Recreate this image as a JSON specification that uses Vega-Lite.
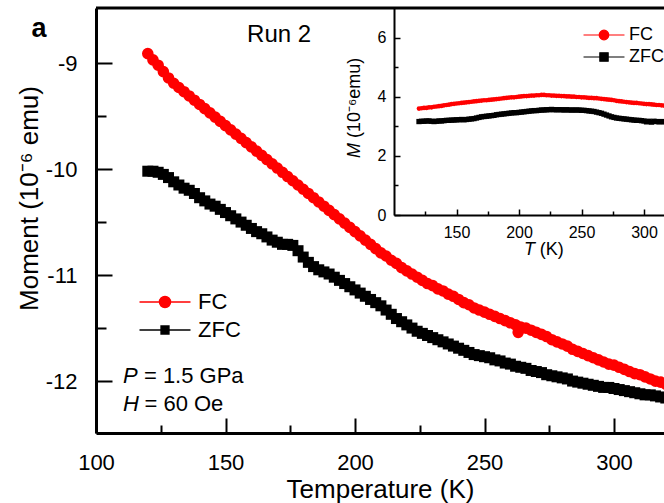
{
  "$schema": "https://vega.github.io/schema/vega-lite/v6.json",
  "width": 568,
  "height": 425,
  "autosize": {"type": "none"},
  "padding": {"left": 96, "top": 8, "right": 0, "bottom": 70},
  "background": "white",
  "config": {
    "view": {"stroke": null},
    "font": "Liberation Sans",
    "axis": {"grid": false, "domainColor": "black", "tickColor": "black", "labelColor": "black", "titleColor": "black", "labelFont": "Liberation Sans", "titleFont": "Liberation Sans", "titleFontWeight": "normal", "labelFlush": false, "labelOverlap": false, "labelBound": false},
    "legend": {"labelFont": "Liberation Sans", "labelColor": "black", "symbolOpacity": 1}
  },
  "datasets": {
    "main": [
      {"s":"ZFC","T":120,"M":-10.02},{"s":"ZFC","T":122,"M":-10.02},{"s":"ZFC","T":124,"M":-10.03},{"s":"ZFC","T":126,"M":-10.05},{"s":"ZFC","T":128,"M":-10.08},{"s":"ZFC","T":130,"M":-10.12},{"s":"ZFC","T":132,"M":-10.15},{"s":"ZFC","T":134,"M":-10.18},{"s":"ZFC","T":136,"M":-10.2},{"s":"ZFC","T":138,"M":-10.23},{"s":"ZFC","T":140,"M":-10.27},{"s":"ZFC","T":142,"M":-10.3},{"s":"ZFC","T":144,"M":-10.33},{"s":"ZFC","T":146,"M":-10.35},{"s":"ZFC","T":148,"M":-10.38},{"s":"ZFC","T":150,"M":-10.41},{"s":"ZFC","T":152,"M":-10.44},{"s":"ZFC","T":154,"M":-10.47},{"s":"ZFC","T":156,"M":-10.5},{"s":"ZFC","T":158,"M":-10.53},{"s":"ZFC","T":160,"M":-10.56},{"s":"ZFC","T":162,"M":-10.59},{"s":"ZFC","T":164,"M":-10.61},{"s":"ZFC","T":166,"M":-10.64},{"s":"ZFC","T":168,"M":-10.67},{"s":"ZFC","T":170,"M":-10.69},{"s":"ZFC","T":172,"M":-10.71},{"s":"ZFC","T":174,"M":-10.71},{"s":"ZFC","T":176,"M":-10.72},{"s":"ZFC","T":178,"M":-10.77},{"s":"ZFC","T":180,"M":-10.83},{"s":"ZFC","T":182,"M":-10.88},{"s":"ZFC","T":184,"M":-10.92},{"s":"ZFC","T":186,"M":-10.95},{"s":"ZFC","T":188,"M":-10.97},{"s":"ZFC","T":190,"M":-10.99},{"s":"ZFC","T":192,"M":-11.02},{"s":"ZFC","T":194,"M":-11.05},{"s":"ZFC","T":196,"M":-11.08},{"s":"ZFC","T":198,"M":-11.11},{"s":"ZFC","T":200,"M":-11.14},{"s":"ZFC","T":202,"M":-11.17},{"s":"ZFC","T":204,"M":-11.2},{"s":"ZFC","T":206,"M":-11.23},{"s":"ZFC","T":208,"M":-11.26},{"s":"ZFC","T":210,"M":-11.29},{"s":"ZFC","T":212,"M":-11.33},{"s":"ZFC","T":214,"M":-11.37},{"s":"ZFC","T":216,"M":-11.41},{"s":"ZFC","T":218,"M":-11.44},{"s":"ZFC","T":220,"M":-11.47},{"s":"ZFC","T":222,"M":-11.5},{"s":"ZFC","T":224,"M":-11.53},{"s":"ZFC","T":226,"M":-11.55},{"s":"ZFC","T":228,"M":-11.57},{"s":"ZFC","T":230,"M":-11.59},{"s":"ZFC","T":232,"M":-11.61},{"s":"ZFC","T":234,"M":-11.63},{"s":"ZFC","T":236,"M":-11.65},{"s":"ZFC","T":238,"M":-11.67},{"s":"ZFC","T":240,"M":-11.69},{"s":"ZFC","T":242,"M":-11.71},{"s":"ZFC","T":244,"M":-11.73},{"s":"ZFC","T":246,"M":-11.75},{"s":"ZFC","T":248,"M":-11.76},{"s":"ZFC","T":250,"M":-11.77},{"s":"ZFC","T":252,"M":-11.78},{"s":"ZFC","T":254,"M":-11.8},{"s":"ZFC","T":256,"M":-11.81},{"s":"ZFC","T":258,"M":-11.83},{"s":"ZFC","T":260,"M":-11.84},{"s":"ZFC","T":262,"M":-11.86},{"s":"ZFC","T":264,"M":-11.87},{"s":"ZFC","T":266,"M":-11.88},{"s":"ZFC","T":268,"M":-11.9},{"s":"ZFC","T":270,"M":-11.91},{"s":"ZFC","T":272,"M":-11.92},{"s":"ZFC","T":274,"M":-11.94},{"s":"ZFC","T":276,"M":-11.95},{"s":"ZFC","T":278,"M":-11.96},{"s":"ZFC","T":280,"M":-11.97},{"s":"ZFC","T":282,"M":-11.98},{"s":"ZFC","T":284,"M":-12.0},{"s":"ZFC","T":286,"M":-12.01},{"s":"ZFC","T":288,"M":-12.02},{"s":"ZFC","T":290,"M":-12.03},{"s":"ZFC","T":292,"M":-12.04},{"s":"ZFC","T":294,"M":-12.05},{"s":"ZFC","T":296,"M":-12.06},{"s":"ZFC","T":298,"M":-12.06},{"s":"ZFC","T":300,"M":-12.07},{"s":"ZFC","T":302,"M":-12.08},{"s":"ZFC","T":304,"M":-12.09},{"s":"ZFC","T":306,"M":-12.1},{"s":"ZFC","T":308,"M":-12.11},{"s":"ZFC","T":310,"M":-12.12},{"s":"ZFC","T":312,"M":-12.13},{"s":"ZFC","T":314,"M":-12.13},{"s":"ZFC","T":316,"M":-12.14},{"s":"ZFC","T":318,"M":-12.15},{"s":"ZFC","T":320,"M":-12.16},
      {"s":"FC","T":120,"M":-8.91},{"s":"FC","T":122,"M":-8.97},{"s":"FC","T":124,"M":-9.02},{"s":"FC","T":126,"M":-9.08},{"s":"FC","T":128,"M":-9.14},{"s":"FC","T":130,"M":-9.19},{"s":"FC","T":132,"M":-9.23},{"s":"FC","T":134,"M":-9.27},{"s":"FC","T":136,"M":-9.31},{"s":"FC","T":138,"M":-9.35},{"s":"FC","T":140,"M":-9.39},{"s":"FC","T":142,"M":-9.43},{"s":"FC","T":144,"M":-9.47},{"s":"FC","T":146,"M":-9.51},{"s":"FC","T":148,"M":-9.55},{"s":"FC","T":150,"M":-9.59},{"s":"FC","T":152,"M":-9.63},{"s":"FC","T":154,"M":-9.67},{"s":"FC","T":156,"M":-9.71},{"s":"FC","T":158,"M":-9.75},{"s":"FC","T":160,"M":-9.79},{"s":"FC","T":162,"M":-9.83},{"s":"FC","T":164,"M":-9.87},{"s":"FC","T":166,"M":-9.91},{"s":"FC","T":168,"M":-9.95},{"s":"FC","T":170,"M":-9.99},{"s":"FC","T":172,"M":-10.03},{"s":"FC","T":174,"M":-10.07},{"s":"FC","T":176,"M":-10.11},{"s":"FC","T":178,"M":-10.15},{"s":"FC","T":180,"M":-10.19},{"s":"FC","T":182,"M":-10.23},{"s":"FC","T":184,"M":-10.27},{"s":"FC","T":186,"M":-10.31},{"s":"FC","T":188,"M":-10.35},{"s":"FC","T":190,"M":-10.39},{"s":"FC","T":192,"M":-10.43},{"s":"FC","T":194,"M":-10.47},{"s":"FC","T":196,"M":-10.51},{"s":"FC","T":198,"M":-10.55},{"s":"FC","T":200,"M":-10.59},{"s":"FC","T":202,"M":-10.63},{"s":"FC","T":204,"M":-10.67},{"s":"FC","T":206,"M":-10.71},{"s":"FC","T":208,"M":-10.75},{"s":"FC","T":210,"M":-10.79},{"s":"FC","T":212,"M":-10.82},{"s":"FC","T":214,"M":-10.86},{"s":"FC","T":216,"M":-10.89},{"s":"FC","T":218,"M":-10.93},{"s":"FC","T":220,"M":-10.96},{"s":"FC","T":222,"M":-10.99},{"s":"FC","T":224,"M":-11.02},{"s":"FC","T":226,"M":-11.05},{"s":"FC","T":228,"M":-11.08},{"s":"FC","T":230,"M":-11.1},{"s":"FC","T":232,"M":-11.13},{"s":"FC","T":234,"M":-11.15},{"s":"FC","T":236,"M":-11.18},{"s":"FC","T":238,"M":-11.2},{"s":"FC","T":240,"M":-11.23},{"s":"FC","T":242,"M":-11.26},{"s":"FC","T":244,"M":-11.28},{"s":"FC","T":246,"M":-11.31},{"s":"FC","T":248,"M":-11.33},{"s":"FC","T":250,"M":-11.35},{"s":"FC","T":252,"M":-11.37},{"s":"FC","T":254,"M":-11.39},{"s":"FC","T":256,"M":-11.41},{"s":"FC","T":258,"M":-11.43},{"s":"FC","T":260,"M":-11.45},{"s":"FC","T":262,"M":-11.47},{"s":"FC","T":263,"M":-11.54},{"s":"FC","T":264,"M":-11.49},{"s":"FC","T":266,"M":-11.5},{"s":"FC","T":268,"M":-11.52},{"s":"FC","T":270,"M":-11.54},{"s":"FC","T":272,"M":-11.56},{"s":"FC","T":274,"M":-11.58},{"s":"FC","T":276,"M":-11.61},{"s":"FC","T":278,"M":-11.63},{"s":"FC","T":280,"M":-11.65},{"s":"FC","T":282,"M":-11.67},{"s":"FC","T":284,"M":-11.7},{"s":"FC","T":286,"M":-11.72},{"s":"FC","T":288,"M":-11.74},{"s":"FC","T":290,"M":-11.76},{"s":"FC","T":292,"M":-11.78},{"s":"FC","T":294,"M":-11.8},{"s":"FC","T":296,"M":-11.82},{"s":"FC","T":298,"M":-11.84},{"s":"FC","T":300,"M":-11.85},{"s":"FC","T":302,"M":-11.87},{"s":"FC","T":304,"M":-11.89},{"s":"FC","T":306,"M":-11.91},{"s":"FC","T":308,"M":-11.93},{"s":"FC","T":310,"M":-11.94},{"s":"FC","T":312,"M":-11.96},{"s":"FC","T":314,"M":-11.98},{"s":"FC","T":316,"M":-12.0},{"s":"FC","T":318,"M":-12.01},{"s":"FC","T":320,"M":-12.03}
    ],
    "inset": [
      {"s":"ZFC","T":120,"M":3.16},{"s":"ZFC","T":122,"M":3.17},{"s":"ZFC","T":124,"M":3.17},{"s":"ZFC","T":126,"M":3.18},{"s":"ZFC","T":128,"M":3.18},{"s":"ZFC","T":130,"M":3.17},{"s":"ZFC","T":132,"M":3.16},{"s":"ZFC","T":134,"M":3.17},{"s":"ZFC","T":136,"M":3.18},{"s":"ZFC","T":138,"M":3.18},{"s":"ZFC","T":140,"M":3.19},{"s":"ZFC","T":142,"M":3.2},{"s":"ZFC","T":144,"M":3.2},{"s":"ZFC","T":146,"M":3.21},{"s":"ZFC","T":148,"M":3.21},{"s":"ZFC","T":150,"M":3.22},{"s":"ZFC","T":152,"M":3.22},{"s":"ZFC","T":154,"M":3.23},{"s":"ZFC","T":156,"M":3.22},{"s":"ZFC","T":158,"M":3.23},{"s":"ZFC","T":160,"M":3.24},{"s":"ZFC","T":162,"M":3.25},{"s":"ZFC","T":164,"M":3.26},{"s":"ZFC","T":166,"M":3.28},{"s":"ZFC","T":168,"M":3.3},{"s":"ZFC","T":170,"M":3.32},{"s":"ZFC","T":172,"M":3.33},{"s":"ZFC","T":174,"M":3.34},{"s":"ZFC","T":176,"M":3.35},{"s":"ZFC","T":178,"M":3.36},{"s":"ZFC","T":180,"M":3.37},{"s":"ZFC","T":182,"M":3.39},{"s":"ZFC","T":184,"M":3.4},{"s":"ZFC","T":186,"M":3.41},{"s":"ZFC","T":188,"M":3.42},{"s":"ZFC","T":190,"M":3.43},{"s":"ZFC","T":192,"M":3.44},{"s":"ZFC","T":194,"M":3.45},{"s":"ZFC","T":196,"M":3.46},{"s":"ZFC","T":198,"M":3.46},{"s":"ZFC","T":200,"M":3.47},{"s":"ZFC","T":202,"M":3.48},{"s":"ZFC","T":204,"M":3.49},{"s":"ZFC","T":206,"M":3.5},{"s":"ZFC","T":208,"M":3.51},{"s":"ZFC","T":210,"M":3.52},{"s":"ZFC","T":212,"M":3.53},{"s":"ZFC","T":214,"M":3.53},{"s":"ZFC","T":216,"M":3.54},{"s":"ZFC","T":218,"M":3.55},{"s":"ZFC","T":220,"M":3.55},{"s":"ZFC","T":222,"M":3.56},{"s":"ZFC","T":224,"M":3.56},{"s":"ZFC","T":226,"M":3.57},{"s":"ZFC","T":228,"M":3.56},{"s":"ZFC","T":230,"M":3.56},{"s":"ZFC","T":232,"M":3.56},{"s":"ZFC","T":234,"M":3.56},{"s":"ZFC","T":236,"M":3.55},{"s":"ZFC","T":238,"M":3.56},{"s":"ZFC","T":240,"M":3.55},{"s":"ZFC","T":242,"M":3.55},{"s":"ZFC","T":244,"M":3.55},{"s":"ZFC","T":246,"M":3.55},{"s":"ZFC","T":248,"M":3.55},{"s":"ZFC","T":250,"M":3.54},{"s":"ZFC","T":252,"M":3.54},{"s":"ZFC","T":254,"M":3.53},{"s":"ZFC","T":256,"M":3.52},{"s":"ZFC","T":258,"M":3.51},{"s":"ZFC","T":260,"M":3.5},{"s":"ZFC","T":262,"M":3.48},{"s":"ZFC","T":264,"M":3.46},{"s":"ZFC","T":266,"M":3.44},{"s":"ZFC","T":268,"M":3.41},{"s":"ZFC","T":270,"M":3.38},{"s":"ZFC","T":272,"M":3.35},{"s":"ZFC","T":274,"M":3.32},{"s":"ZFC","T":276,"M":3.3},{"s":"ZFC","T":278,"M":3.28},{"s":"ZFC","T":280,"M":3.27},{"s":"ZFC","T":282,"M":3.26},{"s":"ZFC","T":284,"M":3.25},{"s":"ZFC","T":286,"M":3.24},{"s":"ZFC","T":288,"M":3.23},{"s":"ZFC","T":290,"M":3.22},{"s":"ZFC","T":292,"M":3.21},{"s":"ZFC","T":294,"M":3.2},{"s":"ZFC","T":296,"M":3.2},{"s":"ZFC","T":298,"M":3.19},{"s":"ZFC","T":300,"M":3.18},{"s":"ZFC","T":302,"M":3.15},{"s":"ZFC","T":304,"M":3.17},{"s":"ZFC","T":306,"M":3.14},{"s":"ZFC","T":308,"M":3.17},{"s":"ZFC","T":310,"M":3.16},{"s":"ZFC","T":312,"M":3.15},{"s":"ZFC","T":314,"M":3.16},{"s":"ZFC","T":316,"M":3.15},
      {"s":"FC","T":120,"M":3.6},{"s":"FC","T":122,"M":3.61},{"s":"FC","T":124,"M":3.62},{"s":"FC","T":126,"M":3.62},{"s":"FC","T":128,"M":3.64},{"s":"FC","T":130,"M":3.64},{"s":"FC","T":132,"M":3.66},{"s":"FC","T":134,"M":3.67},{"s":"FC","T":136,"M":3.68},{"s":"FC","T":138,"M":3.69},{"s":"FC","T":140,"M":3.71},{"s":"FC","T":142,"M":3.72},{"s":"FC","T":144,"M":3.73},{"s":"FC","T":146,"M":3.75},{"s":"FC","T":148,"M":3.76},{"s":"FC","T":150,"M":3.77},{"s":"FC","T":152,"M":3.78},{"s":"FC","T":154,"M":3.79},{"s":"FC","T":156,"M":3.8},{"s":"FC","T":158,"M":3.81},{"s":"FC","T":160,"M":3.82},{"s":"FC","T":162,"M":3.83},{"s":"FC","T":164,"M":3.84},{"s":"FC","T":166,"M":3.85},{"s":"FC","T":168,"M":3.86},{"s":"FC","T":170,"M":3.87},{"s":"FC","T":172,"M":3.88},{"s":"FC","T":174,"M":3.88},{"s":"FC","T":176,"M":3.89},{"s":"FC","T":178,"M":3.9},{"s":"FC","T":180,"M":3.91},{"s":"FC","T":182,"M":3.92},{"s":"FC","T":184,"M":3.93},{"s":"FC","T":186,"M":3.94},{"s":"FC","T":188,"M":3.95},{"s":"FC","T":190,"M":3.96},{"s":"FC","T":192,"M":3.97},{"s":"FC","T":194,"M":3.98},{"s":"FC","T":196,"M":3.98},{"s":"FC","T":198,"M":3.99},{"s":"FC","T":200,"M":4.0},{"s":"FC","T":202,"M":4.01},{"s":"FC","T":204,"M":4.02},{"s":"FC","T":206,"M":4.02},{"s":"FC","T":208,"M":4.03},{"s":"FC","T":210,"M":4.04},{"s":"FC","T":212,"M":4.04},{"s":"FC","T":214,"M":4.05},{"s":"FC","T":216,"M":4.05},{"s":"FC","T":218,"M":4.06},{"s":"FC","T":220,"M":4.06},{"s":"FC","T":222,"M":4.05},{"s":"FC","T":224,"M":4.05},{"s":"FC","T":226,"M":4.04},{"s":"FC","T":228,"M":4.04},{"s":"FC","T":230,"M":4.03},{"s":"FC","T":232,"M":4.03},{"s":"FC","T":234,"M":4.02},{"s":"FC","T":236,"M":4.02},{"s":"FC","T":238,"M":4.01},{"s":"FC","T":240,"M":4.01},{"s":"FC","T":242,"M":4.0},{"s":"FC","T":244,"M":4.0},{"s":"FC","T":246,"M":3.99},{"s":"FC","T":248,"M":3.99},{"s":"FC","T":250,"M":3.98},{"s":"FC","T":252,"M":3.98},{"s":"FC","T":254,"M":3.97},{"s":"FC","T":256,"M":3.96},{"s":"FC","T":258,"M":3.96},{"s":"FC","T":260,"M":3.95},{"s":"FC","T":262,"M":3.95},{"s":"FC","T":264,"M":3.94},{"s":"FC","T":266,"M":3.93},{"s":"FC","T":268,"M":3.92},{"s":"FC","T":270,"M":3.91},{"s":"FC","T":272,"M":3.9},{"s":"FC","T":274,"M":3.89},{"s":"FC","T":276,"M":3.88},{"s":"FC","T":278,"M":3.86},{"s":"FC","T":280,"M":3.85},{"s":"FC","T":282,"M":3.84},{"s":"FC","T":284,"M":3.83},{"s":"FC","T":286,"M":3.82},{"s":"FC","T":288,"M":3.81},{"s":"FC","T":290,"M":3.8},{"s":"FC","T":292,"M":3.79},{"s":"FC","T":294,"M":3.79},{"s":"FC","T":296,"M":3.78},{"s":"FC","T":298,"M":3.77},{"s":"FC","T":300,"M":3.76},{"s":"FC","T":302,"M":3.75},{"s":"FC","T":304,"M":3.75},{"s":"FC","T":306,"M":3.74},{"s":"FC","T":308,"M":3.73},{"s":"FC","T":310,"M":3.72},{"s":"FC","T":312,"M":3.72},{"s":"FC","T":314,"M":3.71},{"s":"FC","T":316,"M":3.7}
    ]
  },
  "layer": [
    {
      "layer": [
        {
          "data": {"name": "main"},
          "transform": [{"filter": "datum.s === 'ZFC'"}],
          "mark": {"type": "point", "filled": true, "opacity": 1, "shape": "square", "size": 121, "clip": true},
          "encoding": {
            "x": {"field": "T", "type": "quantitative", "scale": {"domain": [100, 319.3], "nice": false, "zero": false},
              "axis": {"orient": "bottom", "values": [100, 125, 150, 175, 200, 225, 250, 275, 300],
                "labelExpr": "datum.value % 50 === 0 ? '' + datum.value : ''",
                "tickSize": {"condition": {"test": "datum.value % 50 === 0", "value": -15}, "value": -8},
                "tickWidth": 2, "domainWidth": 3, "labelFontSize": 22, "labelPadding": 34,
                "title": "Temperature (K)", "titleFontSize": 26, "titlePadding": -4}},
            "y": {"field": "M", "type": "quantitative", "scale": {"domain": [-12.49, -8.48], "nice": false, "zero": false},
              "axis": {"orient": "left", "values": [-12, -11.5, -11, -10.5, -10, -9.5, -9],
                "labelExpr": "datum.value % 1 === 0 ? '' + datum.value : ''",
                "tickSize": {"condition": {"test": "datum.value % 1 === 0", "value": -16}, "value": -10},
                "tickWidth": 2, "domainWidth": 3, "labelFontSize": 22, "labelPadding": 35,
                "title": "Moment (10⁻⁶ emu)", "titleFontSize": 26, "titlePadding": 3, "titleY": 190}},
            "color": {"field": "s", "type": "nominal", "scale": {"domain": ["FC", "ZFC"], "range": ["#ff0000", "#000000"]},
              "legend": {"orient": "none", "legendX": 58, "legendY": 283, "title": null, "labelFontSize": 22, "symbolSize": 400, "symbolStrokeWidth": 1.5, "labelOffset": 22, "rowPadding": 6, "padding": 0,
                "encode": {"symbols": {"update": {
                  "shape": {"signal": "datum.value === 'FC' ? 'M-2.55,0H2.55M-0.55,0A0.55,0.55,0,1,1,0.55,0A0.55,0.55,0,1,1,-0.55,0Z' : 'M-2.55,0H2.55M-0.39,-0.39H0.39V0.39H-0.39Z'"},
                  "fill": {"signal": "datum.value === 'FC' ? '#ff0000' : '#000000'"},
                  "stroke": {"signal": "datum.value === 'FC' ? '#ff0000' : '#000000'"},
                  "opacity": {"value": 1}}}}}}
          }
        },
        {
          "data": {"name": "main"},
          "transform": [{"filter": "datum.s === 'FC'"}],
          "mark": {"type": "point", "filled": true, "opacity": 1, "shape": "circle", "size": 135, "clip": true},
          "encoding": {
            "x": {"field": "T", "type": "quantitative", "scale": {"domain": [100, 319.3], "nice": false, "zero": false}},
            "y": {"field": "M", "type": "quantitative", "scale": {"domain": [-12.49, -8.48], "nice": false, "zero": false}},
            "color": {"field": "s", "type": "nominal", "scale": {"domain": ["FC", "ZFC"], "range": ["#ff0000", "#000000"]}}
          }
        },
        {
          "data": {"values": [{}]},
          "mark": {"type": "rule", "color": "black", "strokeWidth": 3},
          "encoding": {"y": {"datum": -8.48, "type": "quantitative", "scale": {"domain": [-12.49, -8.48], "nice": false, "zero": false}}}
        },
        {
          "data": {"values": [{}]},
          "mark": {"type": "text", "text": "Run 2", "fontSize": 24, "align": "center", "baseline": "middle", "color": "black"},
          "encoding": {"x": {"datum": 170.7, "type": "quantitative", "scale": {"domain": [100, 319.3], "nice": false, "zero": false}},
                       "y": {"datum": -8.739, "type": "quantitative", "scale": {"domain": [-12.49, -8.48], "nice": false, "zero": false}}}
        },
        {
          "data": {"values": [{}]},
          "mark": {"type": "text", "text": "a", "fontSize": 27, "fontWeight": "bold", "align": "center", "baseline": "middle", "color": "black"},
          "encoding": {"x": {"datum": 78, "type": "quantitative", "scale": {"domain": [100, 319.3], "nice": false, "zero": false}},
                       "y": {"datum": -8.68, "type": "quantitative", "scale": {"domain": [-12.49, -8.48], "nice": false, "zero": false}}}
        },
        {
          "data": {"values": [{}]},
          "mark": {"type": "text", "text": "P", "fontSize": 22, "fontStyle": "italic", "align": "right", "baseline": "middle", "color": "black"},
          "encoding": {"x": {"datum": 116.1, "type": "quantitative", "scale": {"domain": [100, 319.3], "nice": false, "zero": false}},
                       "y": {"datum": -11.956, "type": "quantitative", "scale": {"domain": [-12.49, -8.48], "nice": false, "zero": false}}}
        },
        {
          "data": {"values": [{}]},
          "mark": {"type": "text", "text": "= 1.5 GPa", "fontSize": 22, "align": "left", "baseline": "middle", "color": "black"},
          "encoding": {"x": {"datum": 118.5, "type": "quantitative", "scale": {"domain": [100, 319.3], "nice": false, "zero": false}},
                       "y": {"datum": -11.956, "type": "quantitative", "scale": {"domain": [-12.49, -8.48], "nice": false, "zero": false}}}
        },
        {
          "data": {"values": [{}]},
          "mark": {"type": "text", "text": "H", "fontSize": 22, "fontStyle": "italic", "align": "right", "baseline": "middle", "color": "black"},
          "encoding": {"x": {"datum": 116.6, "type": "quantitative", "scale": {"domain": [100, 319.3], "nice": false, "zero": false}},
                       "y": {"datum": -12.22, "type": "quantitative", "scale": {"domain": [-12.49, -8.48], "nice": false, "zero": false}}}
        },
        {
          "data": {"values": [{}]},
          "mark": {"type": "text", "text": "= 60 Oe", "fontSize": 22, "align": "left", "baseline": "middle", "color": "black"},
          "encoding": {"x": {"datum": 118.7, "type": "quantitative", "scale": {"domain": [100, 319.3], "nice": false, "zero": false}},
                       "y": {"datum": -12.22, "type": "quantitative", "scale": {"domain": [-12.49, -8.48], "nice": false, "zero": false}}}
        }
      ]
    },
    {
      "layer": [
        {
          "data": {"name": "inset"},
          "transform": [{"filter": "datum.s === 'ZFC'"}],
          "mark": {"type": "point", "filled": true, "opacity": 1, "shape": "square", "size": 28, "clip": true},
          "encoding": {
            "x": {"field": "T", "type": "quantitative", "scale": {"domain": [100, 316], "range": [298, 568], "nice": false, "zero": false},
              "axis": {"orient": "bottom", "offset": -218, "values": [125, 150, 175, 200, 225, 250, 275, 300],
                "labelExpr": "datum.value % 50 === 0 ? '' + datum.value : ''",
                "tickSize": {"condition": {"test": "datum.value % 50 === 0", "value": -6}, "value": -4},
                "tickWidth": 1.5, "domainWidth": 2, "labelFontSize": 16, "labelPadding": 15, "title": null}},
            "y": {"field": "M", "type": "quantitative", "scale": {"domain": [0, 7], "range": [207, 0], "nice": false, "zero": false},
              "axis": {"orient": "left", "offset": -298, "values": [0, 1, 2, 3, 4, 5, 6],
                "labelExpr": "datum.value % 2 === 0 ? '' + datum.value : ''",
                "tickSize": {"condition": {"test": "datum.value % 2 === 0", "value": -6}, "value": -4},
                "tickWidth": 1.5, "domainWidth": 2, "labelFontSize": 16, "labelPadding": 14, "title": null}},
            "color": {"field": "s", "type": "nominal", "scale": {"domain": ["FC", "ZFC"], "range": ["#ff0000", "#000000"]},
              "legend": {"orient": "none", "legendX": 499, "legendY": 18, "title": null, "labelFontSize": 18, "symbolSize": 256, "symbolStrokeWidth": 1.2, "labelOffset": 16, "rowPadding": 4, "padding": 0,
                "encode": {"symbols": {"update": {
                  "shape": {"signal": "datum.value === 'FC' ? 'M-2.56,0H2.56M-0.6,0A0.6,0.6,0,1,1,0.6,0A0.6,0.6,0,1,1,-0.6,0Z' : 'M-2.56,0H2.56M-0.52,-0.52H0.52V0.52H-0.52Z'"},
                  "fill": {"signal": "datum.value === 'FC' ? '#ff0000' : '#000000'"},
                  "stroke": {"signal": "datum.value === 'FC' ? '#ff0000' : '#000000'"},
                  "opacity": {"value": 1}}}}}}
          }
        },
        {
          "data": {"name": "inset"},
          "transform": [{"filter": "datum.s === 'FC'"}],
          "mark": {"type": "point", "filled": true, "opacity": 1, "shape": "circle", "size": 22, "clip": true},
          "encoding": {
            "x": {"field": "T", "type": "quantitative", "scale": {"domain": [100, 316], "range": [298, 568], "nice": false, "zero": false}},
            "y": {"field": "M", "type": "quantitative", "scale": {"domain": [0, 7], "range": [207, 0], "nice": false, "zero": false}},
            "color": {"field": "s", "type": "nominal", "scale": {"domain": ["FC", "ZFC"], "range": ["#ff0000", "#000000"]}}
          }
        },
        {
          "data": {"values": [{}]},
          "mark": {"type": "text", "text": "T", "fontSize": 18, "fontStyle": "italic", "align": "right", "baseline": "middle", "color": "black"},
          "encoding": {"x": {"datum": 212.8, "type": "quantitative", "scale": {"domain": [100, 316], "range": [298, 568], "nice": false, "zero": false}},
                       "y": {"datum": -1.19, "type": "quantitative", "scale": {"domain": [0, 7], "range": [207, 0], "nice": false, "zero": false}}}
        },
        {
          "data": {"values": [{}]},
          "mark": {"type": "text", "text": "(K)", "fontSize": 18, "align": "left", "baseline": "middle", "color": "black"},
          "encoding": {"x": {"datum": 216.6, "type": "quantitative", "scale": {"domain": [100, 316], "range": [298, 568], "nice": false, "zero": false}},
                       "y": {"datum": -1.19, "type": "quantitative", "scale": {"domain": [0, 7], "range": [207, 0], "nice": false, "zero": false}}}
        },
        {
          "data": {"values": [{}]},
          "mark": {"type": "text", "text": "M", "fontSize": 18, "fontStyle": "italic", "align": "right", "baseline": "middle", "angle": 270, "color": "black"},
          "encoding": {"x": {"datum": 68.8, "type": "quantitative", "scale": {"domain": [100, 316], "range": [298, 568], "nice": false, "zero": false}},
                       "y": {"datum": 2.435, "type": "quantitative", "scale": {"domain": [0, 7], "range": [207, 0], "nice": false, "zero": false}}}
        },
        {
          "data": {"values": [{}]},
          "mark": {"type": "text", "text": "(10⁻⁶emu)", "fontSize": 18, "align": "left", "baseline": "middle", "angle": 270, "color": "black"},
          "encoding": {"x": {"datum": 68.8, "type": "quantitative", "scale": {"domain": [100, 316], "range": [298, 568], "nice": false, "zero": false}},
                       "y": {"datum": 2.6, "type": "quantitative", "scale": {"domain": [0, 7], "range": [207, 0], "nice": false, "zero": false}}}
        }
      ]
    }
  ],
  "resolve": {"scale": {"x": "independent", "y": "independent", "color": "independent"}, "axis": {"x": "independent", "y": "independent"}, "legend": {"color": "independent"}}
}
